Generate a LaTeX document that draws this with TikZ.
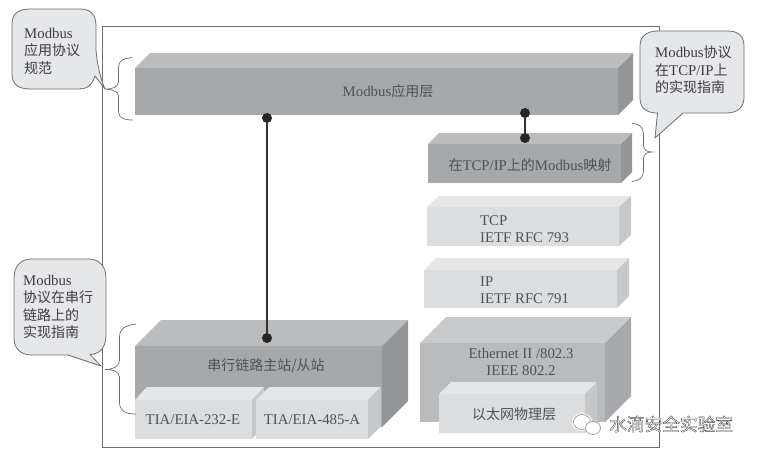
\documentclass[tikz,border=0pt]{standalone}
\usepackage{fontspec}
\setmainfont{Liberation Serif}
\newfontfamily\cjkfont{Noto Sans CJK SC}
\newcommand{\zh}[1]{{\cjkfont\fontsize{14}{17.5}\selectfont #1}}
\definecolor{txtdark}{HTML}{3E3E40}
\definecolor{txtmid}{HTML}{505153}
\definecolor{frontA}{HTML}{A7A8AA}
\definecolor{topA}{HTML}{BBBCBE}
\definecolor{sideA}{HTML}{939598}
\definecolor{frontB}{HTML}{DCDDDE}
\definecolor{topB}{HTML}{E5E6E7}
\definecolor{sideB}{HTML}{C7C8CA}
\definecolor{frontC}{HTML}{BABBBD}
\definecolor{topC}{HTML}{C9CACC}
\definecolor{sideC}{HTML}{A7A9AC}
\definecolor{lineG}{HTML}{6D6E71}
\definecolor{bubble}{HTML}{E6E7E8}
\tikzset{
  lab/.style={inner sep=0pt,text=txtmid,font=\fontsize{14.8}{17.5}\selectfont,align=center},
  lableft/.style={lab,align=left,anchor=west},
  callout/.style={draw=lineG,line width=0.8pt,fill=bubble,line join=round},
  bracepath/.style={draw=lineG,line width=0.7pt},
  dotnode/.style={circle,fill=black!85,inner sep=0pt,minimum size=10pt},
  link/.style={draw=black!80,line width=2.3pt},
  framebox/.style={draw=lineG,line width=1pt}
}
% name, x1,y1,x2,y2 (front face), dx,dy, colour suffix
\newcommand{\slab}[8]{%
  \fill[top#8] (#2,#3) -- ++(#6,-#7) -- ({#4+#6},{#3-#7}) -- (#4,#3) -- cycle;
  \fill[side#8] (#4,#3) -- ({#4+#6},{#3-#7}) -- ({#4+#6},{#5-#7}) -- (#4,#5) -- cycle;
  \fill[front#8] (#2,#3) rectangle (#4,#5);
  \coordinate (#1) at ({(#2+#4)/2},{(#3+#5)/2});
}
\begin{document}
\begin{tikzpicture}[x=1pt,y=-1pt]
\useasboundingbox (0,0) rectangle (758,458);
\fill[white] (0,0) rectangle (758,458);
\draw[framebox] (102.5,26) rectangle (659,447);

\slab{app}{135}{68}{618}{115}{15}{15}{A}
\slab{map}{428}{144}{621}{183}{11}{11}{A}
\slab{tcp}{427}{207}{619}{246}{12}{11}{B}
\slab{ip}{424}{270}{617}{308}{12}{12}{B}
\slab{eth}{420}{343}{605}{422}{26}{26}{C}
\slab{phy}{439}{394}{585}{433}{12}{12}{B}
\slab{ser}{135}{346}{382}{427}{26}{26}{A}
\slab{tia2}{135}{400}{252}{439}{12}{13}{B}
\slab{tia4}{256}{400}{368}{439}{13}{13}{B}

\node[lab] (tapp) at (388,91) {Modbus\zh{应用层}};
\node[lab] (tmap) at (530,165) {\zh{在}TCP/IP\zh{上的}Modbus\zh{映射}};
\node[lableft] (ttcp) at (480,229) {TCP\\IETF RFC 793};
\node[lableft] (tip) at (480,290) {IP\\IETF RFC 791};
\node[lab] (teth) at (521,362) {Ethernet II /802.3\\IEEE 802.2};
\node[lab] (tphy) at (514,414) {\zh{以太网物理层}};
\node[lab] (tser) at (266,366) {\zh{串行链路主站/从站}};
\node[lab] (ttia2) at (193,420) {TIA/EIA-232-E};
\node[lab] (ttia4) at (312,420) {TIA/EIA-485-A};

\node[dotnode] (d1) at (267,118) {};
\node[dotnode] (d2) at (267,338) {};
\node[dotnode] (d3) at (525,113) {};
\node[dotnode] (d4) at (525,138) {};
\draw[link] (d1) -- (d2);
\draw[link] (d3) -- (d4);

% braces
\draw[bracepath] (132,57.5) .. controls (122,59) and (119,60) .. (118.5,68)
  -- (118.5,82) .. controls (118,87) and (112,89.5) .. (105,89)
  .. controls (112,89.5) and (118,91) .. (118.5,96) -- (118.5,112)
  .. controls (119,118) and (124,120) .. (133,120);
\draw[bracepath] (632,123.5) .. controls (640,124) and (643,127) .. (643.5,134)
  -- (643.5,146) .. controls (644,150) and (647,152) .. (652,152)
  .. controls (647,152) and (644,154) .. (643.5,158) -- (643.5,171)
  .. controls (643,178) and (640,180) .. (632,181.5);
\draw[bracepath] (136,324) .. controls (124,326) and (120,328) .. (119.5,337)
  -- (119.5,360) .. controls (119,367) and (113,369.5) .. (105,369.5)
  .. controls (113,369.5) and (119,371) .. (119.5,377) -- (119.5,403)
  .. controls (120,411) and (125,414) .. (136,414);

% callouts
\draw[callout] (30,9) -- (80,9) .. controls (90,9) and (96,14) .. (96,26)
  -- (96,50) .. controls (97,62) and (100,78) .. (105,89)
  -- (95,76) .. controls (92,85) and (88,89) .. (78,89)
  -- (30,89) .. controls (18,89) and (12,84) .. (12,74)
  -- (12,24) .. controls (12,14) and (18,9) .. (30,9) -- cycle;
\draw[callout] (658,31) -- (728,31) .. controls (739,31) and (744,37) .. (744,46)
  -- (744,97) .. controls (744,107) and (738,113) .. (726,113)
  -- (683,113) -- (655,138) -- (657.5,113) -- (655,113)
  .. controls (645,112) and (640,107) .. (640,98)
  -- (640,46) .. controls (640,37) and (646,31) .. (658,31) -- cycle;
\draw[callout] (32,259) -- (88,259) .. controls (100,259) and (106,267) .. (106,278)
  -- (106,335) .. controls (106,345) and (102,352) .. (94,354)
  -- (90,354.5) -- (101,366) -- (68,355) -- (32,355)
  .. controls (20,355) and (14,348) .. (14,338)
  -- (14,278) .. controls (14,267) and (20,259) .. (32,259) -- cycle;

\node[lableft,text=txtdark] (c1) at (24,51) {Modbus\\\zh{应用协议}\\\zh{规范}};
\node[lableft,text=txtdark] (c2) at (655,70) {Modbus\zh{协议}\\\zh{在}TCP/IP\zh{上}\\\zh{的实现指南}};
\node[lableft,text=txtdark] (c3) at (23,307) {Modbus\\\zh{协议在串行}\\\zh{链路上的}\\\zh{实现指南}};

% watermark
\draw[white,fill=white,line width=0.3pt] (582,422) ellipse (10 and 8.5);
\draw[lineG!70,line width=0.7pt] (582,422) ellipse (8.5 and 7.5);
\draw[lineG!70,fill=white,line width=0.7pt] (593,428) ellipse (7.5 and 6.5);
\node[inner sep=0pt,anchor=west,text=white] (wm) at (609,424)
  {\special{pdf:code 2 Tr 0.35 w 0.25 0.25 0.25 RG}\cjkfont\fontsize{17.7}{20}\selectfont 水滴安全实验室\special{pdf:code 0 Tr}};
\end{tikzpicture}
\end{document}
